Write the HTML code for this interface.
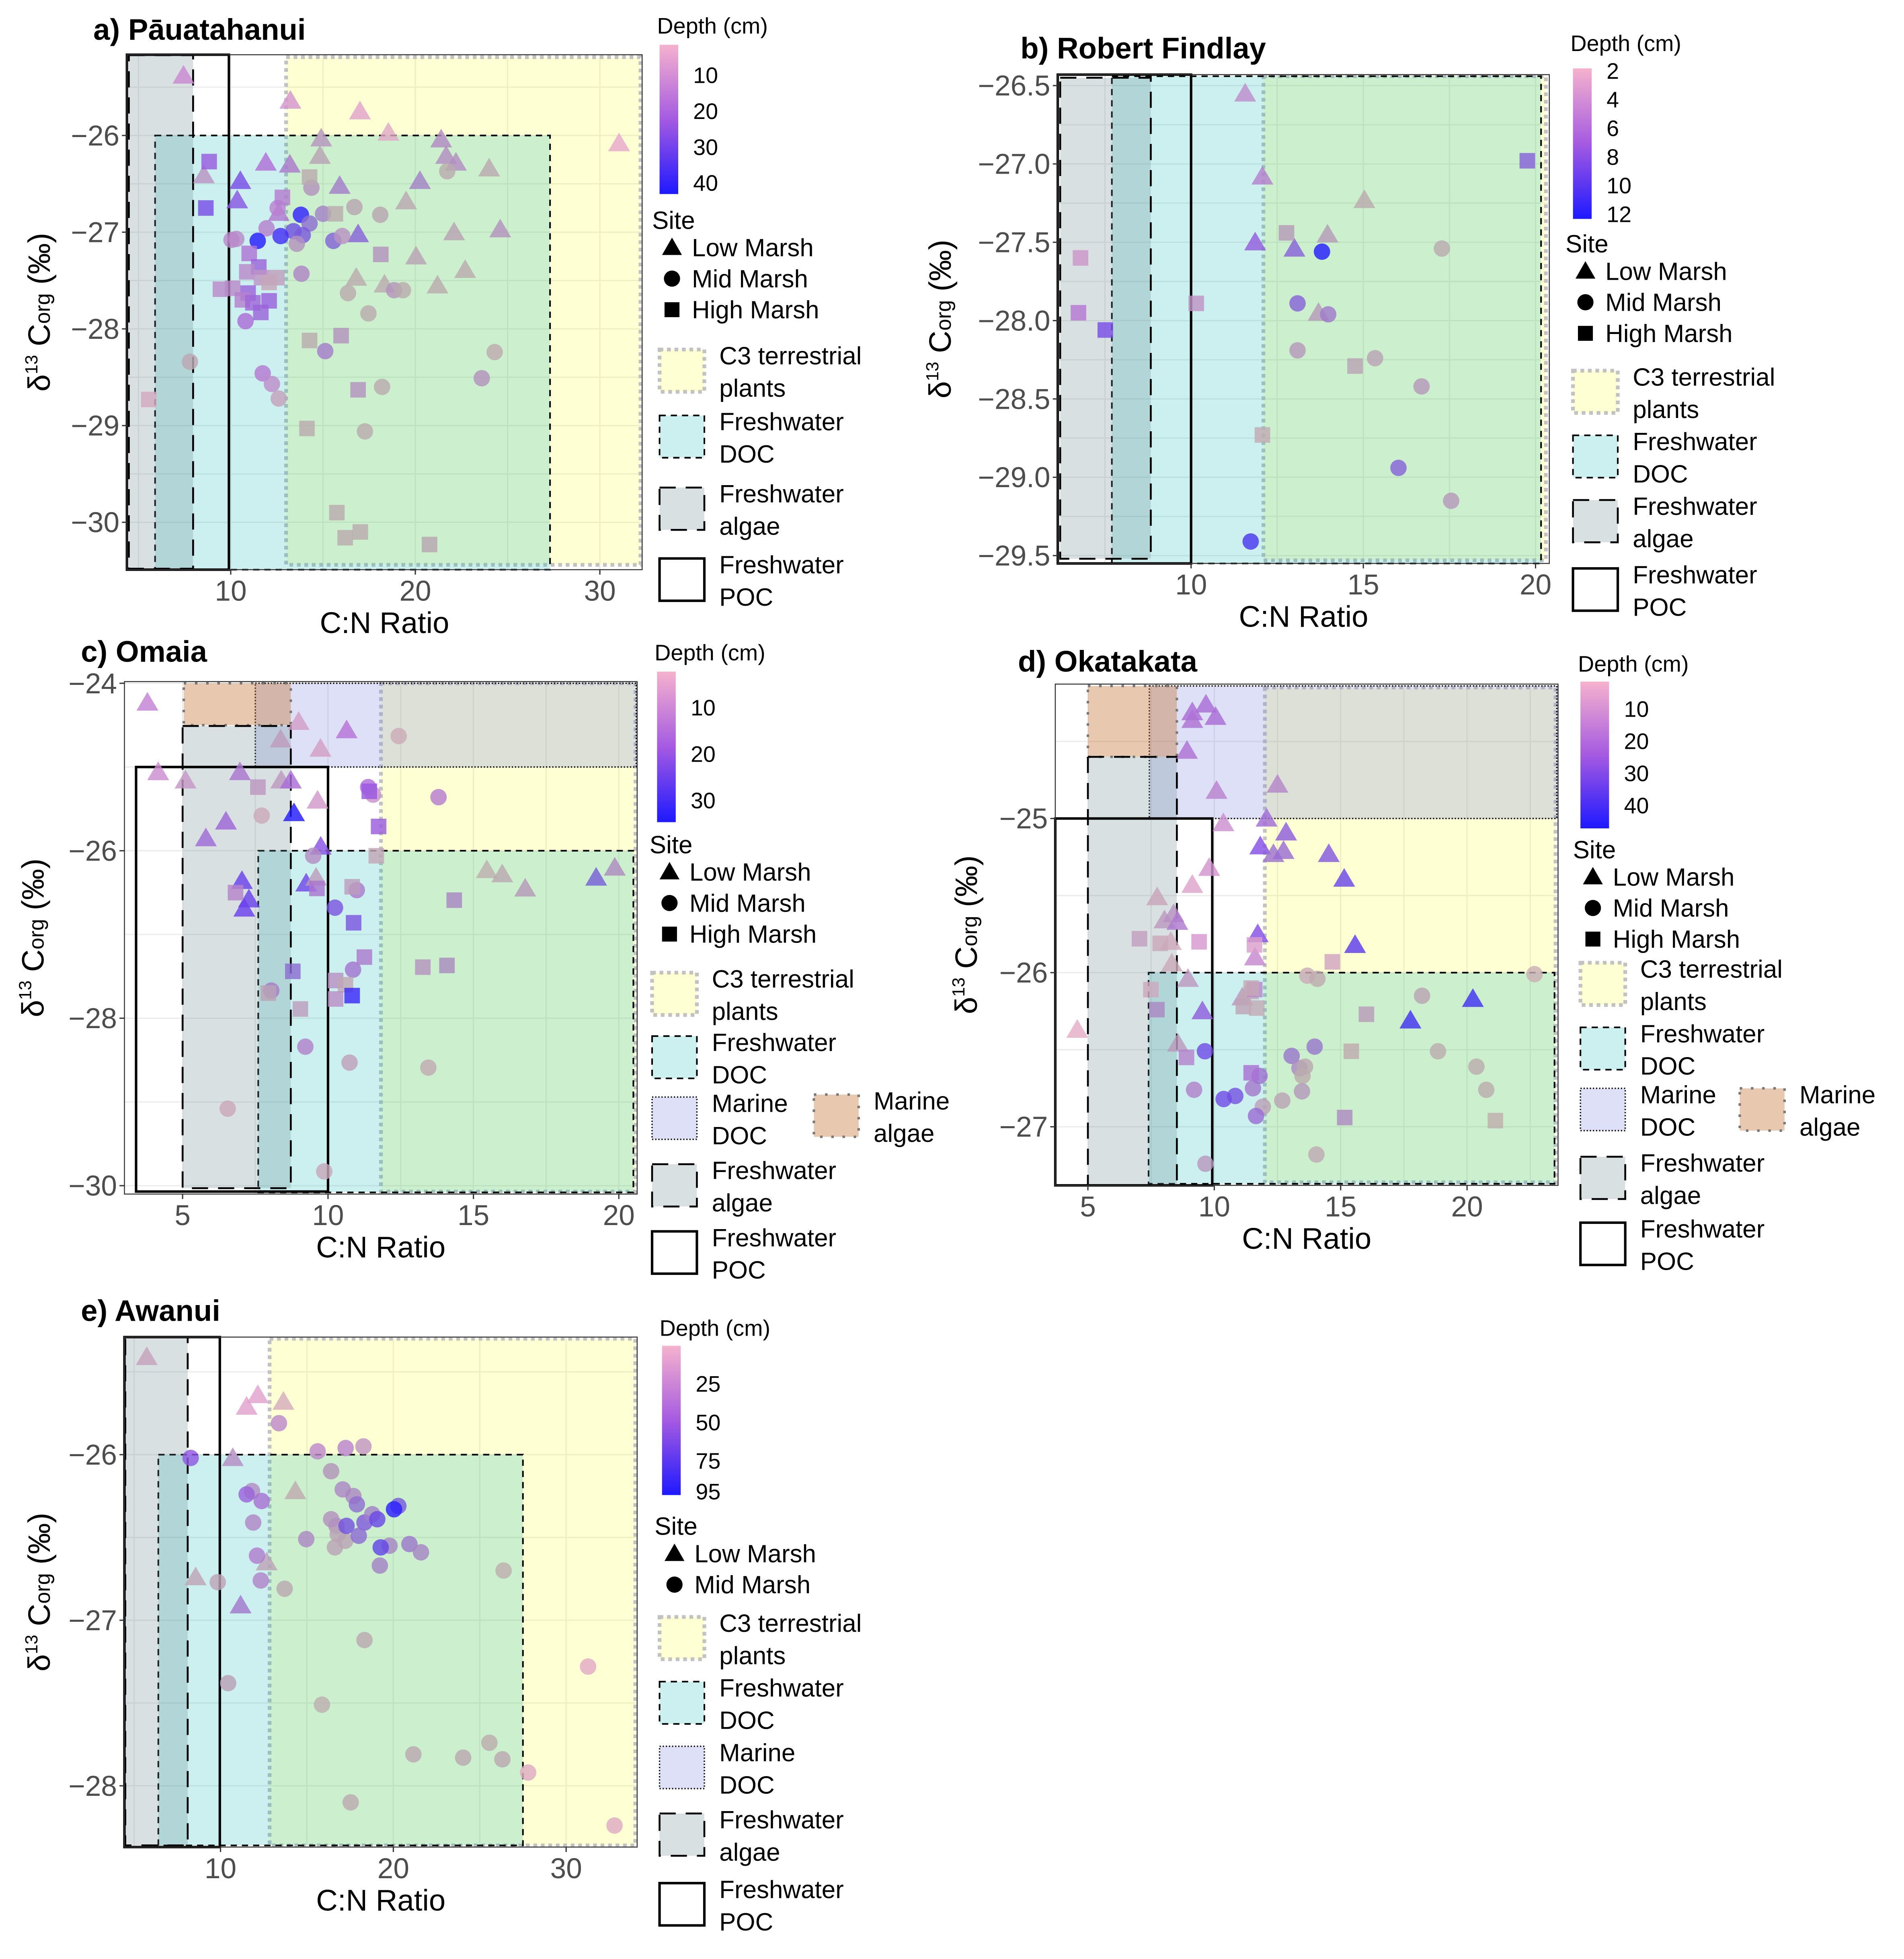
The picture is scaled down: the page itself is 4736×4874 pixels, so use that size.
<!DOCTYPE html>
<html><head><meta charset="utf-8"><style>
html,body{margin:0;padding:0;background:#fff;}
svg{display:block;font-family:"Liberation Sans",Arial,sans-serif;}
</style></head><body>
<svg id="fig" xmlns="http://www.w3.org/2000/svg" width="4736" height="4874" viewBox="0 0 1530 1575" preserveAspectRatio="none">
<defs>
<linearGradient id="depthGrad" x1="0" y1="0" x2="0" y2="1">
<stop offset="0" stop-color="rgb(245,178,205)"/><stop offset="0.5" stop-color="rgb(165,90,225)"/><stop offset="1" stop-color="rgb(30,25,255)"/>
</linearGradient>
</defs>
</svg>
<script>
// ---------- Panel a data ----------
const aCN=[7.44,13.23,17.0,18.54,14.9,21.4,31.04,14.83,21.67,22.2,24.0,11.9,13.2,8.54,10.52,15.9,20.25,10.35,19.5,12.6,16.9,22.1,24.6,20.04,22.7,16.8,18.33,21.2,
7.79,21.73,14.37,16.7,18.1,15.0,13.8,12.54,11.94,13.4,14.27,13.9,12.7,11.46,15.56,16.04,13.58,10.3,10.04,13.83,16.35,18.85,19.33,17.46,10.8,15.12,24.3,23.6,18.2,11.73,12.23,12.6,17.27,
8.83,8.65,14.27,12.8,15.67,18.13,11.0,11.52,10.87,11.67,12.5,12.08,9.44,10.1,10.94,10.63,11.2,12.08,11.63,15.98,14.27,16.9,5.56,14.13,15.75,16.2,17.02,20.77];
const aD13C=[-25.38,-25.64,-25.75,-25.97,-26.03,-26.04,-26.08,-26.21,-26.21,-26.28,-26.34,-26.28,-26.30,-26.41,-26.47,-26.52,-26.47,-26.67,-26.68,-26.80,-27.02,-27.0,-26.97,-27.25,-27.39,-27.47,-27.54,-27.55,
-28.34,-26.37,-26.54,-26.74,-26.82,-26.81,-26.82,-26.75,-26.96,-26.99,-26.91,-27.03,-27.04,-27.09,-27.09,-27.04,-27.12,-27.07,-27.08,-27.43,-27.63,-27.6,-27.6,-27.84,-27.92,-28.23,-28.24,-28.51,-28.6,-28.46,-28.57,-28.72,-29.06,
-26.27,-26.75,-26.43,-26.64,-26.81,-27.23,-27.22,-27.36,-27.41,-27.47,-27.47,-27.52,-27.59,-27.58,-27.63,-27.7,-27.73,-27.71,-27.83,-28.07,-28.12,-28.63,-28.73,-29.03,-29.9,-30.16,-30.1,-30.23];
const aDepth=[12,9,5,4,18,20,4,15,20,20,12,20,22,16,30,25,25,28,12,20,30,15,20,15,10,10,10,10,
10,10,20,15,15,25,40,16,18,33,30,32,38,42,32,16,20,16,16,22,10,20,10,10,22,25,8,20,10,18,15,10,10,
25,30,10,18,10,20,20,25,16,14,12,8,16,16,25,18,24,25,25,20,10,20,5,10,10,10,10,15];
const aSite="LLLLLLLLLLLLLLLLLLLLLLLLLLLLMMMMMMMMMMMMMMMMMMMMMMMMMMMMMMMMMHHHHHHHHHHHHHHHHHHHHHHHHHHHH".split("");
const aMute=[0.1,0.1,0.1,0.2,0.6,0.5,0.1,0.75,0.55,0.55,0.8,0.15,0.35,0.5,0.1,0.45,0.5,0.15,0.8,0.3,0.3,0.75,0.6,0.75,0.85,0.85,0.85,0.85,
0.75,0.85,0.6,0.8,0.8,0.5,0,0.2,0.3,0.2,0.4,0.25,0.05,0,0.35,0.5,0.6,0.35,0.35,0.5,0.85,0.65,0.85,0.85,0.2,0.45,0.8,0.6,0.85,0.2,0.35,0.55,0.85,
0.1,0.1,0.85,0.25,0.85,0.6,0.2,0.2,0.35,0.45,0.55,0.6,0.35,0.35,0.2,0.3,0.2,0.15,0.2,0.6,0.85,0.6,0.4,0.85,0.85,0.85,0.85,0.8];
const aRegions=[["c3",13,32.2,-25.19,-30.44],["doc",5.9,27.3,-26,-30.6],["algae",4.48,7.96,-25.17,-30.48],["poc",4.0,9.9,-25.0,-31]];
const aXTicks=[10,20,30];
const aYTicks=[-26,-27,-28,-29,-30];
const aDepthTicks=[10,20,30,40];

// ---------- Panel b data ----------
const bCN=[11.57,12.07,15.03,13.96,11.86,13.0,13.7,13.8,17.28,13.09,13.98,13.09,15.34,16.69,16.02,17.55,11.73,19.76,12.77,6.79,10.15,6.73,7.51,14.76,12.07];
const bD13C=[-26.55,-27.08,-27.23,-27.45,-27.5,-27.54,-27.95,-27.56,-27.54,-27.89,-27.96,-28.19,-28.24,-28.42,-28.94,-29.15,-29.41,-26.98,-27.44,-27.6,-27.89,-27.95,-28.06,-28.29,-28.73];
const bDepth=[5,6,4,6,8,9,6,12,4,9,8,6,5,6,9,6,11,9,6,4,5,6,9,5,3];
const bSite="LLLLLLLMMMMMMMMMMHHHHHHHH".split("");
const bMute=[0.3,0.3,0.85,0.7,0.15,0.3,0.7,0,0.85,0.3,0.45,0.65,0.75,0.65,0.3,0.65,0.1,0.3,0.7,0.25,0.45,0.2,0.1,0.75,0.75];
const bRegions=[["c3",12.1,20.3,-26.44,-29.53],["doc",7.7,20.16,-26.44,-29.55],["algae",6.2,8.83,-26.45,-29.52],["poc",5.0,10,-26.3,-30]];
const bXTicks=[10,15,20];
const bYTicks=[-26.5,-27,-27.5,-28,-28.5,-29,-29.5];
const bDepthTicks=[2,4,6,8,10,12];

// ---------- Panel c data ----------
const cCN=[3.79,4.16,5.1,6.97,8.39,8.72,8.99,8.37,9.74,10.64,9.64,8.83,6.49,5.8,9.75,7.04,7.28,7.12,9.25,9.59,15.46,15.99,16.78,19.22,19.86,
12.43,11.38,11.55,13.8,7.72,9.49,10.99,10.24,10.86,8.05,9.22,10.74,13.45,6.55,9.87,
7.59,11.42,11.74,11.66,6.82,9.62,10.83,14.34,10.88,11.25,8.79,10.26,10.6,10.26,10.83,7.95,9.05,13.26,14.09];
const cD13C=[-24.23,-25.06,-25.16,-25.06,-25.16,-25.16,-24.46,-24.67,-24.78,-24.56,-25.4,-25.55,-25.65,-25.85,-25.95,-26.36,-26.58,-26.69,-26.39,-26.32,-26.23,-26.28,-26.45,-26.32,-26.2,
-24.63,-25.24,-25.33,-25.36,-25.58,-26.06,-26.47,-26.68,-27.42,-27.67,-28.34,-28.53,-28.59,-29.08,-29.83,
-25.24,-25.29,-25.71,-26.06,-26.5,-26.45,-26.43,-26.59,-26.86,-27.27,-27.44,-27.55,-27.6,-27.77,-27.73,-27.7,-27.89,-27.39,-27.37];
const cDepth=[12,10,10,18,12,18,7,12,7,15,8,34,20,20,22,26,26,26,26,12,5,10,15,28,18,
5,16,10,15,5,16,18,25,20,20,17,10,6,6,7,
12,20,20,8,15,18,12,20,25,18,25,14,8,14,32,12,12,16,20];
const cSite="LLLLLLLLLLLLLLLLLLLLLLLLLMMMMMMMMMMMMMMMHHHHHHHHHHHHHHHHHHH".split("");
const cMute=[0.1,0.15,0.35,0.3,0.55,0.2,0.25,0.6,0.3,0.1,0.2,0,0.2,0.25,0.05,0.05,0.05,0.05,0.1,0.65,0.85,0.8,0.65,0.35,0.55,
0.6,0.1,0.2,0.25,0.55,0.5,0.35,0.2,0.35,0.45,0.4,0.6,0.75,0.55,0.6,
0.5,0.05,0.1,0.65,0.35,0.3,0.6,0.55,0.2,0.35,0.4,0.5,0.7,0.45,0.05,0.75,0.6,0.6,0.6];
const cRegions=[["c3",11.82,20.57,-24,-30.07],["doc",7.6,20.5,-26,-30.08],["mdoc",7.5,20.6,-24,-25],["malgae",5.04,8.72,-24,-24.5],["algae",5,8.72,-24.51,-30.03],["poc",3.4,10,-25,-30.07]];
const cXTicks=[5,10,15,20];
const cYTicks=[-24,-26,-28,-30];
const cDepthTicks=[10,20,30];

// ---------- Panel d data ----------
const dCN=[9.67,9.13,10.05,9.13,8.92,12.5,10.09,12.07,10.36,12.84,11.82,12.34,12.74,14.53,15.14,9.8,9.13,7.74,8.03,8.39,8.54,8.28,11.72,15.57,11.61,8.32,8.96,11.11,11.35,9.53,20.23,17.76,8.56,4.58,
13.68,14.08,22.67,18.22,18.85,20.37,20.76,13.97,13.06,13.37,13.59,13.49,13.47,12.69,11.92,11.65,11.53,11.79,10.83,10.37,9.63,9.2,9.65,14.04,
7.04,7.86,9.4,11.59,14.67,7.49,11.6,11.46,11.15,11.68,7.73,16.02,15.42,8.9,11.46,15.16,21.12];
const dD13C=[-24.26,-24.31,-24.34,-24.36,-24.56,-24.78,-24.82,-25.0,-25.03,-25.09,-25.18,-25.23,-25.21,-25.23,-25.39,-25.32,-25.43,-25.51,-25.66,-25.62,-25.67,-25.8,-25.75,-25.82,-25.9,-25.94,-26.04,-26.16,-26.12,-26.25,-26.17,-26.31,-26.46,-26.37,
-26.02,-26.04,-26.01,-26.15,-26.51,-26.61,-26.76,-26.48,-26.54,-26.62,-26.61,-26.67,-26.77,-26.83,-26.87,-26.93,-26.75,-26.67,-26.8,-26.82,-26.51,-26.76,-27.24,-27.18,
-25.78,-25.81,-25.8,-25.82,-25.93,-26.11,-26.11,-26.1,-26.22,-26.23,-26.24,-26.27,-26.51,-26.55,-26.65,-26.94,-26.96];
const dDepth=[24,24,24,22,22,20,18,26,12,30,30,28,28,32,35,10,6,8,15,18,22,5,30,37,14,6,15,16,10,30,43,43,16,3,
5,8,3,14,8,8,8,30,30,25,12,8,20,15,15,28,26,28,35,35,35,22,18,8,
12,7,9,7,7,6,18,8,12,8,26,18,8,20,24,24,5];
const dSite="LLLLLLLLLLLLLLLLLLLLLLLLLLLLLLLLLLMMMMMMMMMMMMMMMMMMMMMMMMHHHHHHHHHHHHHHHHH".split("");
const dMute=[0.2,0.2,0.2,0.2,0.2,0.4,0.25,0.25,0.15,0.2,0.05,0.35,0.3,0.2,0.1,0.15,0.15,0.55,0.55,0.5,0.3,0.5,0.05,0.05,0.15,0.55,0.5,0.55,0.7,0.2,0.1,0.1,0.6,0.2,
0.6,0.8,0.65,0.75,0.85,0.85,0.85,0.45,0.45,0.55,0.8,0.85,0.65,0.75,0.7,0.3,0.4,0.35,0.2,0.15,0.15,0.4,0.6,0.75,
0.5,0.55,0.1,0.15,0.4,0.5,0.35,0.65,0.7,0.7,0.55,0.65,0.8,0.35,0.25,0.55,0.85];
const dRegions=[["c3",12,23.5,-24.15,-27.36],["doc",7.4,23.46,-26,-27.37],["mdoc",7.43,23.55,-24.14,-25],["malgae",5,8.52,-24.14,-24.6],["algae",5,8.52,-24.6,-27.38],["poc",3.5,9.92,-25,-27.5]];
const dXTicks=[5,10,15,20];
const dYTicks=[-25,-26,-27];
const dDepthTicks=[10,20,30,40];

// ---------- Panel e data ----------
const eCN=[5.73,12.16,11.51,13.64,10.71,14.33,12.67,8.56,11.16,
13.38,15.62,17.24,18.27,8.27,16.4,17.07,17.69,17.89,20.29,20.04,11.82,11.51,12.38,11.89,16.4,16.71,16.78,17.22,16.62,17.29,18.33,18.78,19.07,18.0,14.96,19.78,19.27,20.93,21.6,19.22,12.11,12.33,9.84,13.71,26.38,18.33,10.44,31.27,15.87,25.56,21.16,24.04,26.31,27.8,17.53,32.8];
const eD13C=[-25.41,-25.64,-25.71,-25.68,-26.02,-26.22,-26.65,-26.74,-26.91,
-25.81,-25.98,-25.96,-25.95,-26.02,-26.1,-26.21,-26.25,-26.3,-26.31,-26.33,-26.22,-26.24,-26.28,-26.41,-26.39,-26.43,-26.48,-26.52,-26.56,-26.43,-26.41,-26.36,-26.39,-26.49,-26.51,-26.55,-26.56,-26.54,-26.59,-26.67,-26.61,-26.76,-26.77,-26.81,-26.7,-27.12,-27.38,-27.28,-27.51,-27.74,-27.81,-27.83,-27.84,-27.92,-28.1,-28.24];
const eDepth=[20,10,10,5,40,15,25,25,55,
32,32,35,28,58,45,50,50,65,75,92,45,55,50,45,45,45,30,30,30,72,68,55,75,65,50,55,78,60,55,55,45,45,25,25,10,25,30,5,10,15,25,25,25,5,20,5];
const eSite="LLLLLLLLLMMMMMMMMMMMMMMMMMMMMMMMMMMMMMMMMMMMMMMMMMMMMMMM".split("");
const eMute=[0.55,0.1,0.1,0.45,0.5,0.8,0.7,0.7,0.4,
0.3,0.3,0.25,0.45,0.1,0.65,0.55,0.55,0.4,0.3,0,0.55,0.2,0.3,0.5,0.6,0.6,0.75,0.75,0.75,0.2,0.25,0.5,0.15,0.35,0.55,0.55,0.15,0.45,0.55,0.5,0.35,0.45,0.7,0.8,0.85,0.8,0.7,0.2,0.85,0.85,0.8,0.8,0.8,0.25,0.8,0.25];
const eRegions=[["c3",12.84,34.0,-25.3,-28.36],["doc",6.4,27.5,-26,-28.36],["algae",4.49,8.1,-25.29,-28.36],["poc",4.0,9.96,-25.0,-29]];
const eXTicks=[10,20,30];
const eYTicks=[-26,-27,-28];
const eDepthTicks=[25,50,75,95];

// ---------- drawing ----------
const NS="http://www.w3.org/2000/svg";
const svg=document.getElementById("fig");
function mk(tag,attrs,parent){const e=document.createElementNS(NS,tag);for(const k in attrs)e.setAttribute(k,attrs[k]);(parent||svg).appendChild(e);return e;}
const STY={
 c3:{fill:"rgba(255,255,0,0.17)",stroke:"#c2c2c2",sw:3,dash:"3 3"},
 doc:{fill:"rgba(0,180,180,0.2)",stroke:"#000",sw:1.3,dash:"5 4"},
 mdoc:{fill:"rgba(120,130,220,0.25)",stroke:"#000",sw:1.1,dash:"1 1.5"},
 malgae:{fill:"rgba(195,110,45,0.38)",stroke:"#777",sw:2,dash:"2 7"},
 algae:{fill:"rgba(100,130,140,0.25)",stroke:"#000",sw:1.5,dash:"13 8"},
 poc:{fill:"none",stroke:"#000",sw:2,dash:""}
};
function depthColor(f,m){
 f=Math.max(0,Math.min(1,f));
 const s=[[245,178,205],[165,90,225],[30,25,255]];
 let c;
 if(f<0.5){const t=f/0.5;c=s[0].map((v,i)=>v+(s[1][i]-v)*t);}
 else{const t=(f-0.5)/0.5;c=s[1].map((v,i)=>v+(s[2][i]-v)*t);}
 const g=[182,176,168];
 c=c.map((v,i)=>Math.round(v*(1-m)+g[i]*m));
 return "rgb("+c.join(",")+")";
}
function fmt(v){return (v<0?"\u2212":"")+Math.abs(v);}

function panel(p){
 const g=mk("g",{});
 
 
 const L=p.box[0],R=p.box[1],T=p.box[2],B=p.box[3];
 const sx=v=>L+(v-p.xd[0])/(p.xd[1]-p.xd[0])*(R-L);
 const sy=v=>T+(p.yd[1]-v)/(p.yd[1]-p.yd[0])*(B-T);
 const cx=v=>Math.max(L,Math.min(R,sx(v)));
 const cy=v=>Math.max(T,Math.min(B,sy(v)));
 const grid=mk("g",{},g);
 
 
 const xs=p.xt, ys=p.yt;
 const xstep=xs[1]-xs[0], ystep=ys[0]-ys[1];
 for(let v=xs[0]-xstep*3;v<=xs[xs.length-1]+xstep*3;v+=xstep/2){const X=sx(v);if(X>L&&X<R)mk("line",{x1:X,x2:X,y1:T,y2:B,stroke:"#ebebeb","stroke-width":1},grid);}
 for(let v=ys[0]+ystep*3;v>=ys[ys.length-1]-ystep*3;v-=ystep/2){const Y=sy(v);if(Y>T&&Y<B)mk("line",{x1:L,x2:R,y1:Y,y2:Y,stroke:"#ebebeb","stroke-width":1},grid);}
 p.reg.forEach(r=>{
  const st=STY[r[0]];
  const x1=cx(r[1]),x2=cx(r[2]),y1=cy(r[3]),y2=cy(r[4]);
  const rect=mk("rect",{x:x1,y:y1,width:x2-x1,height:y2-y1,fill:st.fill,stroke:st.stroke,"stroke-width":st.sw,"stroke-dasharray":st.dash},g);
  
  
 });
 const pts=mk("g",{"fill-opacity":0.82},g);
 
 
 for(let i=0;i<p.cn.length;i++){
  const X=sx(p.cn[i]),Y=sy(p.d[i]);
  const f=(p.dep[i]-p.dr[0])/(p.dr[1]-p.dr[0]);
  const col=depthColor(f,p.mu[i]);
  let el;
  if(p.site[i]==="L"){el=mk("polygon",{points:(X)+","+(Y-8.5)+" "+(X-8.8)+","+(Y+6.5)+" "+(X+8.8)+","+(Y+6.5),fill:col},pts);}
  else if(p.site[i]==="M"){el=mk("circle",{cx:X,cy:Y,r:6.6,fill:col},pts);}
  else{el=mk("rect",{x:X-6.25,y:Y-6.25,width:12.5,height:12.5,fill:col},pts);}
  
  
 }
 const fr=mk("rect",{x:L,y:T,width:R-L,height:B-T,fill:"none",stroke:"#333","stroke-width":0.8},g);
 
 
 p.xt.forEach(v=>{const X=sx(v);mk("line",{x1:X,x2:X,y1:B,y2:B+4,stroke:"#333","stroke-width":1},g);
  const t=mk("text",{x:X,y:B+25,"text-anchor":"middle","font-size":23,fill:"#4d4d4d"},g);t.textContent=fmt(v);
  
  });
 p.yt.forEach(v=>{const Y=sy(v);mk("line",{x1:L-4,x2:L,y1:Y,y2:Y,stroke:"#333","stroke-width":1},g);
  const t=mk("text",{x:L-6,y:Y+8,"text-anchor":"end","font-size":23,fill:"#4d4d4d"},g);t.textContent=p.yfmt?p.yfmt(v):fmt(v);
  
  });
 const tt=mk("text",{x:p.title[1],y:p.title[2],"font-size":24,"font-weight":"bold",fill:"#000"},g);tt.textContent=p.title[0];
 
 
 const xt=mk("text",{x:(L+R)/2,y:B+51,"text-anchor":"middle","font-size":24,fill:"#000"},g);xt.textContent="C:N Ratio";
 
 
 const yx=p.ytx, yy=(T+B)/2;
 const yt=mk("text",{x:yx,y:yy,"text-anchor":"middle","font-size":25,fill:"#000",transform:"rotate(-90 "+yx+" "+yy+")"},g);
 yt.innerHTML='δ<tspan font-size="14" dy="-10">13</tspan><tspan dy="10"> C</tspan><tspan font-size="17" dy="0">org</tspan><tspan> (‰)</tspan>';
 
 
 const lg=mk("g",{},g);
 
 
 const lx=p.lg.x;
 const dt=mk("text",{x:lx+4,y:p.lg.depthY,"font-size":18,fill:"#000"},lg);dt.textContent="Depth (cm)";
 
 
 const bt=p.lg.bar[0],bb=p.lg.bar[1];
 const bar=mk("rect",{x:lx+6,y:bt,width:p.lg.barW||15,height:bb-bt,fill:"url(#depthGrad)"},lg);
 
 
 p.dt.forEach(v=>{const Y=bt+(v-p.dr[0])/(p.dr[1]-p.dr[0])*(bb-bt);
  const t=mk("text",{x:lx+8+(p.lg.barW||15)+10,y:Y+6,"font-size":18,fill:"#000"},lg);t.textContent=v;
  
  });
 const sit=mk("text",{x:lx,y:p.lg.siteY,"font-size":20,fill:"#000"},lg);sit.textContent="Site";
 
 
 const names={L:"Low Marsh",M:"Mid Marsh",H:"High Marsh"};
 p.lg.sites.forEach((s,i)=>{const Y=p.lg.siteY+22+i*25, X=lx+16;
  let m;
  if(s==="L")m=mk("polygon",{points:X+","+(Y-15)+" "+(X-8)+","+(Y-1)+" "+(X+8)+","+(Y-1),fill:"#000"},lg);
  else if(s==="M")m=mk("circle",{cx:X,cy:Y-7,r:6.5,fill:"#000"},lg);
  else m=mk("rect",{x:X-6,y:Y-13,width:12,height:12,fill:"#000"},lg);
  
  
  const t=mk("text",{x:lx+32,y:Y,"font-size":20,fill:"#000"},lg);t.textContent=names[s];
  
  });
 p.lg.keys.forEach(k=>{
  const st=STY[k[0]];
  const r=mk("rect",{x:k[1]+2,y:k[2]+2,width:36,height:34,fill:st.fill==="none"?"#fff":st.fill,stroke:st.stroke,"stroke-width":st.sw,"stroke-dasharray":st.dash},lg);
  
  
  k[3].forEach((line,j)=>{const t=mk("text",{x:k[1]+50,y:k[2]+14+j*26,"font-size":20,fill:"#000"},lg);t.textContent=line;
   
   });
 });
}
const C3=["C3 terrestrial","plants"],FD=["Freshwater","DOC"],FA=["Freshwater","algae"],FP=["Freshwater","POC"],MD=["Marine","DOC"],MA=["Marine","algae"];

panel({id:"panel-a",box:[102,516,44,458],xd:[4.375,32.29],yd:[-30.49,-25.165],cn:aCN,d:aD13C,dep:aDepth,site:aSite,mu:aMute,reg:aRegions,xt:aXTicks,yt:aYTicks,dt:aDepthTicks,dr:[1.4,43],
 title:["a) Pāuatahanui",75,32],ytx:40,
 lg:{x:524,depthY:27,bar:[36,156],siteY:184,sites:["L","M","H"],keys:[["c3",528,279,C3],["doc",528,332,FD],["algae",528,390,FA],["poc",528,447,FP]]}});
panel({id:"panel-b",box:[850,1245,60,453],xd:[6.13,20.4],yd:[-29.55,-26.43],cn:bCN,d:bD13C,dep:bDepth,site:bSite,mu:bMute,reg:bRegions,xt:bXTicks,yt:bYTicks,dt:bDepthTicks,dr:[1.8,12.3],
 yfmt:v=>"\u2212"+Math.abs(v).toFixed(1),
 title:["b) Robert Findlay",820,47],ytx:764,
 lg:{x:1258,depthY:41,bar:[55,176],siteY:203,sites:["L","M","H"],keys:[["c3",1262,296,C3],["doc",1262,348,FD],["algae",1262,400,FA],["poc",1262,455,FP]]}});
panel({id:"panel-c",box:[100,512,548,960],xd:[3.0,20.63],yd:[-30.1,-23.98],cn:cCN,d:cD13C,dep:cDepth,site:cSite,mu:cMute,reg:cRegions,xt:cXTicks,yt:cYTicks,dt:cDepthTicks,dr:[2.2,34.6],
 title:["c) Omaia",65,532],ytx:35,
 lg:{x:522,depthY:531,bar:[540,661],siteY:686,sites:["L","M","H"],keys:[["c3",522,780,C3],["doc",522,831,FD],["mdoc",522,880,MD],["malgae",652,878,MA],["algae",522,934,FA],["poc",522,988,FP]]}});
panel({id:"panel-d",box:[848,1252,550,953],xd:[3.71,23.6],yd:[-27.38,-24.128],cn:dCN,d:dD13C,dep:dDepth,site:dSite,mu:dMute,reg:dRegions,xt:dXTicks,yt:dYTicks,dt:dDepthTicks,dr:[1.4,47],
 title:["d) Okatakata",818,540],ytx:785,
 lg:{x:1264,depthY:540,bar:[548,666],barW:23,siteY:690,sites:["L","M","H"],keys:[["c3",1268,772,C3],["doc",1268,824,FD],["mdoc",1268,873,MD],["malgae",1396,873,MA],["algae",1268,928,FA],["poc",1268,981,FP]]}});
panel({id:"panel-e",box:[100,512,1075,1485],xd:[4.44,34.11],yd:[-28.37,-25.29],cn:eCN,d:eD13C,dep:eDepth,site:eSite,mu:eMute,reg:eRegions,xt:eXTicks,yt:eYTicks,dt:eDepthTicks,dr:[0,97],
 title:["e) Awanui",65,1062],ytx:40,
 lg:{x:526,depthY:1074,bar:[1082,1202],siteY:1234,sites:["L","M"],keys:[["c3",528,1298,C3],["doc",528,1350,FD],["mdoc",528,1402,MD],["algae",528,1456,FA],["poc",528,1512,FP]]}});
</script>
</body></html>
